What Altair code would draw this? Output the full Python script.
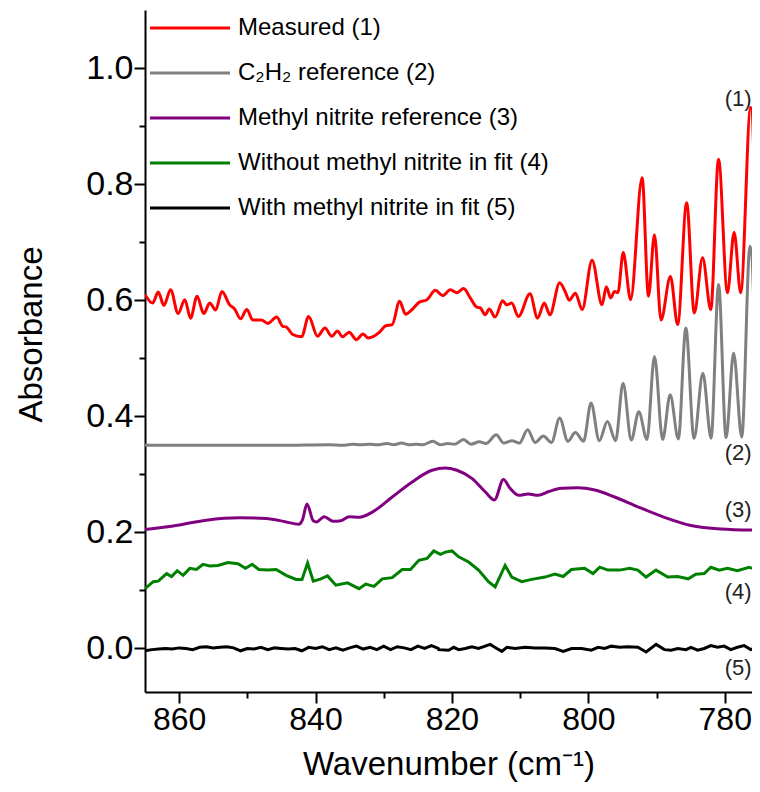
import altair as alt
import pandas as pd

# ---------------- data ----------------
names = ["Measured (1)", "C\u2082H\u2082 reference (2)", "Methyl nitrite reference (3)",
         "Without methyl nitrite in fit (4)", "With methyl nitrite in fit (5)"]
colors = ["#ff0000", "#808080", "#800080", "#008000", "#000000"]

meas_wn = [865.00, 863.88, 863.06, 862.23, 861.25, 860.14, 859.16, 858.33, 857.36, 856.39,
           855.51, 854.64, 853.72, 852.59, 851.86, 850.99, 850.07, 849.19, 847.96, 847.00,
           845.69, 844.81, 844.31, 843.35, 842.04, 841.01, 839.70, 838.62, 837.60, 836.78,
           836.05, 835.07, 834.01, 833.03, 832.26, 830.69, 829.72, 828.75, 827.67, 826.80,
           825.83, 824.85, 823.64, 822.42, 821.35, 820.23, 819.26, 818.28, 817.31, 816.34,
           815.85, 815.12, 814.53, 813.66, 812.55, 811.96, 811.23, 810.26, 808.55, 807.44,
           806.46, 805.63, 804.20, 803.40, 802.80, 801.90, 800.90, 799.45, 797.99, 797.36,
           796.72, 796.14, 795.66, 794.88, 793.80, 792.11, 791.18, 790.30, 789.34, 787.96,
           786.90, 785.58, 784.46, 783.25, 782.04, 780.91, 779.60, 778.62, 777.66, 776.20,
           775.22]
meas_ab = [0.610, 0.595, 0.614, 0.591, 0.618, 0.577, 0.601, 0.569, 0.607, 0.577,
           0.595, 0.583, 0.615, 0.592, 0.585, 0.568, 0.584, 0.566, 0.566, 0.560,
           0.571, 0.555, 0.554, 0.541, 0.537, 0.572, 0.538, 0.552, 0.538, 0.547,
           0.537, 0.545, 0.532, 0.542, 0.535, 0.544, 0.556, 0.558, 0.598, 0.576,
           0.584, 0.596, 0.601, 0.617, 0.608, 0.618, 0.613, 0.620, 0.604, 0.588,
           0.587, 0.575, 0.585, 0.571, 0.599, 0.592, 0.595, 0.572, 0.611, 0.569,
           0.595, 0.575, 0.630, 0.615, 0.600, 0.612, 0.584, 0.669, 0.592, 0.623,
           0.604, 0.615, 0.613, 0.682, 0.601, 0.811, 0.607, 0.713, 0.566, 0.641,
           0.558, 0.768, 0.578, 0.673, 0.584, 0.843, 0.613, 0.717, 0.613, 0.932,
           0.607]

c2h2_wn = [865.0, 855.0, 845.0, 838.0, 836.0, 834.5, 833.5, 832.0, 831.0, 829.5,
           828.5, 827.4, 826.3, 825.2, 824.3, 822.8, 821.7, 820.6, 819.6, 818.3,
           817.2, 816.0, 815.0, 813.5, 812.4, 811.2, 810.1, 808.9, 807.8, 806.6,
           805.4, 804.2, 803.0, 801.9, 800.7, 799.6, 798.4, 797.2, 796.0, 794.9,
           793.7, 792.6, 791.4, 790.3, 789.1, 788.0, 786.8, 785.7, 784.5, 783.2,
           782.0, 780.9, 779.8, 778.7, 777.5, 776.3, 775.2]
c2h2_ab = [0.350, 0.350, 0.350, 0.351, 0.350, 0.352, 0.351, 0.352, 0.351, 0.353,
           0.351, 0.354, 0.351, 0.352, 0.351, 0.357, 0.351, 0.353, 0.352, 0.360,
           0.352, 0.356, 0.353, 0.368, 0.354, 0.358, 0.354, 0.377, 0.355, 0.366,
           0.355, 0.397, 0.357, 0.372, 0.357, 0.423, 0.358, 0.391, 0.358, 0.457,
           0.359, 0.408, 0.360, 0.503, 0.360, 0.437, 0.361, 0.552, 0.362, 0.474,
           0.362, 0.627, 0.363, 0.509, 0.364, 0.693, 0.372]

mn_wn = [865.00, 860.87, 856.00, 851.13, 847.23, 844.31, 842.47, 841.90, 841.25, 840.33,
         839.85, 838.72, 837.41, 836.28, 835.07, 833.61, 831.67, 828.75, 825.83, 822.91,
         820.96, 819.26, 817.07, 815.12, 813.76, 812.45, 811.47, 810.26, 808.80, 807.34,
         805.88, 803.93, 801.50, 799.06, 796.14, 792.74, 788.84, 784.96, 780.58, 775.47]
mn_ab = [0.205, 0.211, 0.221, 0.225, 0.224, 0.218, 0.214, 0.222, 0.249, 0.220,
         0.218, 0.227, 0.219, 0.220, 0.227, 0.226, 0.235, 0.261, 0.287, 0.307,
         0.311, 0.307, 0.293, 0.270, 0.256, 0.291, 0.276, 0.264, 0.266, 0.264,
         0.270, 0.276, 0.277, 0.273, 0.261, 0.244, 0.226, 0.212, 0.206, 0.204]

wo_wn = [865.00, 863.79, 863.06, 861.83, 861.10, 860.28, 859.41, 858.43, 857.45, 856.49,
         855.51, 854.30, 852.84, 851.38, 850.26, 849.28, 848.31, 847.00, 845.77, 844.31,
         842.85, 841.98, 841.16, 840.33, 839.20, 838.24, 837.01, 835.32, 833.61, 832.64,
         831.42, 830.21, 828.75, 827.29, 826.07, 824.85, 823.64, 822.66, 821.69, 820.96,
         819.99, 819.01, 817.55, 816.09, 814.64, 813.66, 812.20, 811.23, 809.77, 808.31,
         806.36, 804.90, 803.69, 802.47, 800.53, 799.31, 798.33, 797.12, 795.41, 793.95,
         792.74, 791.53, 790.07, 788.36, 786.90, 785.36, 784.23, 783.00, 782.04, 780.81,
         779.60, 778.14, 776.43, 775.47]
wo_ab = [0.103, 0.115, 0.116, 0.129, 0.124, 0.134, 0.126, 0.138, 0.136, 0.145,
         0.142, 0.143, 0.148, 0.146, 0.138, 0.145, 0.136, 0.135, 0.136, 0.126,
         0.119, 0.119, 0.147, 0.116, 0.120, 0.125, 0.109, 0.113, 0.103, 0.111,
         0.107, 0.120, 0.122, 0.136, 0.136, 0.152, 0.155, 0.168, 0.162, 0.166,
         0.168, 0.158, 0.149, 0.135, 0.115, 0.106, 0.143, 0.123, 0.115, 0.119,
         0.123, 0.128, 0.124, 0.136, 0.138, 0.129, 0.140, 0.135, 0.135, 0.138,
         0.135, 0.123, 0.135, 0.123, 0.124, 0.120, 0.128, 0.129, 0.140, 0.135,
         0.138, 0.134, 0.140, 0.136]

wi_wn = [865, 864, 863, 862, 861, 860, 859, 858, 857, 856, 855, 854, 853, 852, 851,
         850, 849, 848, 847, 846, 845, 844, 843, 842, 841, 840, 839, 838, 837, 836,
         835, 834, 833, 832, 831, 830, 829, 828, 827, 826, 825, 824, 823, 822,
         821.93, 820.47, 819.74, 819.01, 818.04, 817.06, 816.09, 814.39, 813.41, 812.68,
         811.95, 810.74, 809.28, 807.82, 806.36, 804.90, 803.68, 802.46, 801.00, 799.55,
         798.57, 797.60, 796.63, 795.41, 794.19, 792.73, 791.52, 790.06, 788.84, 787.87,
         786.89, 785.68, 784.95, 783.97, 783.00, 782.03, 781.05, 780.08, 779.11, 778.13,
         777.16, 776.19, 775.46]
wi_ab = [-0.004, -0.002, -0.001, 0.000, -0.001, 0.001, 0.000, -0.002, 0.002, 0.003,
         0.001, 0.002, 0.003, 0.001, -0.004, 0.000, -0.001, 0.002, -0.002, 0.001,
         0.000, -0.001, 0.000, -0.004, 0.002, 0.000, 0.003, -0.002, 0.001, -0.003,
         0.001, 0.004, -0.001, 0.002, -0.002, 0.004, -0.002, 0.003, 0.001, -0.002,
         0.004, 0.000, 0.005, 0.000,
         -0.002, -0.003, 0.002, -0.002, 0.000, 0.003, 0.000, 0.007, 0.000, -0.005,
         0.002, 0.000, 0.002, 0.001, 0.001, 0.000, -0.005, 0.000, 0.000, -0.003,
         0.002, 0.000, 0.004, 0.002, 0.003, 0.002, -0.006, 0.007, -0.002, -0.003,
         0.000, -0.002, 0.002, -0.003, 0.000, 0.005, 0.002, 0.004, -0.002, 0.002,
         0.005, -0.002, 0.001]

tag_labels = ["(1)", "(2)", "(3)", "(4)", "(5)"]
tag_ab = [0.946, 0.337, 0.238, 0.097, -0.033]
tag_wn = [776.05, 776.05, 776.05, 776.05, 776.05]

x_ticks = [860, 850, 840, 830, 820, 810, 800, 790, 780]
y_ticks = [0.0, 0.1, 0.2, 0.3, 0.4, 0.5, 0.6, 0.7, 0.8, 0.9, 1.0]

# ---------------- tables ----------------
def frame(wn, ab, name):
    return pd.DataFrame({"wn": wn, "ab": ab, "series": name})

smooth = pd.concat([frame(meas_wn, meas_ab, names[0]),
                    frame(c2h2_wn, c2h2_ab, names[1]),
                    frame(mn_wn, mn_ab, names[2])], ignore_index=True)
noisy = pd.concat([frame(wo_wn, wo_ab, names[3]),
                   frame(wi_wn, wi_ab, names[4])], ignore_index=True)
tags = pd.DataFrame({"wn": tag_wn, "ab": tag_ab, "label": tag_labels})

FONT = "Arial"

xscale = alt.Scale(domain=[776.0, 865], reverse=True, nice=False, zero=False)
yscale = alt.Scale(domain=[-0.075, 1.1], nice=False, zero=False)

xaxis = alt.Axis(values=x_ticks, format="d", grid=False, labelFontSize=32,
                 labelExpr="datum.value % 20 === 0 ? datum.label : ''",
                 tickSize=alt.condition("datum.value % 20 === 0", alt.value(11), alt.value(6)),
                 title="Wavenumber (cm\u207b\u00b9)")
yaxis = alt.Axis(values=y_ticks, format=".1f", grid=False, labelFontSize=34,
                 labelExpr="round(datum.value * 10) % 2 === 0 ? datum.label : ''",
                 tickSize=alt.condition("round(datum.value * 10) % 2 === 0", alt.value(11), alt.value(6)),
                 title="Absorbance", titleY=324)

color = alt.Color("series:N", sort=names,
                  scale=alt.Scale(domain=names, range=colors),
                  legend=alt.Legend(title=None, orient="none", legendX=5, legendY=6,
                                    symbolType="M-4,0H4", symbolSize=400,
                                    symbolStrokeWidth=3, symbolOffset=28,
                                    labelOffset=36, labelFontSize=24, labelFont=FONT,
                                    labelColor="black",
                                    labelLimit=0, rowPadding=21, padding=0))

base_x = alt.X("wn:Q", scale=xscale, axis=xaxis)
base_y = alt.Y("ab:Q", scale=yscale, axis=yaxis)

lines_smooth = alt.Chart(smooth).mark_line(strokeWidth=3, interpolate="monotone", clip=True).encode(
    x=base_x, y=base_y, color=color, detail="series:N")
lines_noisy = alt.Chart(noisy).mark_line(strokeWidth=3, clip=True).encode(
    x=base_x, y=base_y, color=color, detail="series:N")
text = alt.Chart(tags).mark_text(align="right", baseline="middle", fontSize=22, font=FONT,
                                 color="#222222").encode(
    x=alt.X("wn:Q", scale=xscale), y=alt.Y("ab:Q", scale=yscale), text="label:N")

chart = alt.layer(lines_noisy, lines_smooth, text).properties(
    width=607, height=682,
    autosize=alt.AutoSizeParams(type="none"),
    padding={"left": 137, "top": 2, "right": 0, "bottom": 92},
).configure_view(stroke=None).configure_axis(
    domainColor="black", domainWidth=2, tickColor="black", tickWidth=2,
    labelFont=FONT, labelColor="black", labelPadding=1,
    titleFont=FONT, titleFontSize=33, titleFontWeight="normal", titleColor="black",
).configure_axisX(titlePadding=13).configure_axisY(titlePadding=37)

chart.save("out.html", embed_options={"renderer": "svg", "actions": False})
